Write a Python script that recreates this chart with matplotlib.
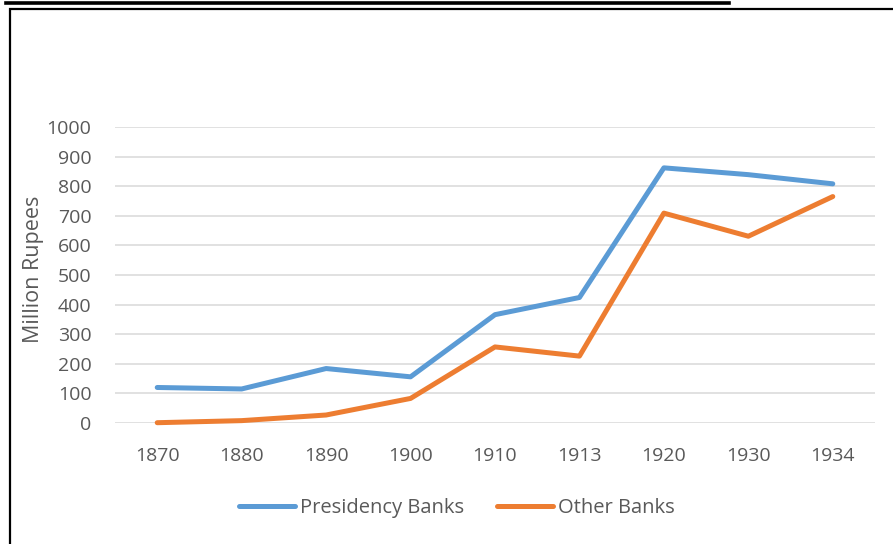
import matplotlib
matplotlib.use("Agg")
import matplotlib.pyplot as plt
from matplotlib.patches import Rectangle
from matplotlib.lines import Line2D

years = ["1870", "1880", "1890", "1900", "1910", "1913", "1920", "1930", "1934"]
presidency = [120, 115, 184, 156, 366, 424, 862, 839, 808]
other = [1, 8, 27, 83, 257, 226, 709, 631, 765]
yticks = [0, 100, 200, 300, 400, 500, 600, 700, 800, 900, 1000]

plt.rcParams["font.family"] = ["Open Sans", "DejaVu Sans"]
grey = "#595959"

fig = plt.figure(figsize=(8.93, 5.44), dpi=100)
fig.patch.set_facecolor("white")

# outer frame of the chart object and the underline above it
fig.add_artist(Rectangle((10 / 893, -0.05), 1.0, 1 - 9 / 544 + 0.05,
                         transform=fig.transFigure, fill=False,
                         edgecolor="black", linewidth=1.6))
fig.add_artist(Line2D([6 / 893, 729 / 893], [1 - 3 / 544, 1 - 3 / 544],
                      transform=fig.transFigure, color="black", linewidth=2.6))

ax = fig.add_axes([115 / 893, (544 - 423) / 544, 760 / 893, 296 / 544])
x = list(range(len(years)))
ax.plot(x, presidency, color="#5B9BD5", linewidth=3.6,
        solid_capstyle="round", solid_joinstyle="round",
        label="Presidency Banks", clip_on=False, zorder=3)
ax.plot(x, other, color="#ED7D31", linewidth=3.6,
        solid_capstyle="round", solid_joinstyle="round",
        label="Other Banks", clip_on=False, zorder=3)

ax.set_xlim(-0.5, len(years) - 0.5)
ax.set_ylim(0, 1000)
ax.set_xticks(x)
ax.set_xticklabels(years)
ax.set_yticks(yticks)
ax.tick_params(axis="both", length=0, labelsize=14, labelcolor=grey)
ax.tick_params(axis="x", pad=17)
ax.tick_params(axis="y", pad=17)
ax.grid(axis="y", color="#D9D9D9", linewidth=1.1)
ax.set_axisbelow(True)
for s in ax.spines.values():
    s.set_visible(False)

ax.set_ylabel("Million Rupees", fontsize=15.5, color=grey)
ax.yaxis.set_label_coords(-0.093, 0.52)

fig.legend(loc="center", bbox_to_anchor=(457 / 893, 1 - 508 / 544), ncol=2,
           frameon=False, fontsize=14.5, labelcolor=grey, handlelength=2.8,
           handletextpad=0.25, columnspacing=1.6)

fig.savefig("out.png", dpi=100)
